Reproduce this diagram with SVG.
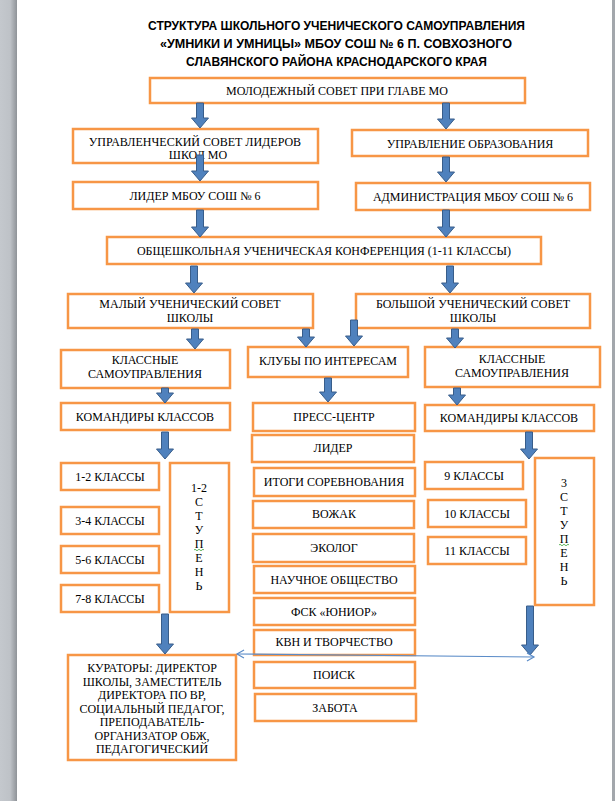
<svg xmlns="http://www.w3.org/2000/svg" width="615" height="801" viewBox="0 0 615 801">
<style>
.box{fill:#fff;stroke:#F79646;stroke-width:2.5}
.t{font-family:"Liberation Serif","Times New Roman",serif;font-size:12px;fill:#000;text-anchor:middle}
.ttl{font-family:"Liberation Sans",Arial,sans-serif;font-weight:bold;font-size:12.5px;fill:#000;text-anchor:middle}
.arr{fill:#4F81BD;stroke:#385D8A;stroke-width:1}
</style>
<defs>
<linearGradient id="lg" x1="0" y1="0" x2="1" y2="0">
<stop offset="0" stop-color="#C4C8CD"/>
<stop offset="0.6" stop-color="#BEC2C7"/>
<stop offset="1" stop-color="#8F9398"/>
</linearGradient>
<marker id="oa" markerWidth="10" markerHeight="10" refX="8" refY="5" orient="auto-start-reverse" markerUnits="userSpaceOnUse">
<path d="M1,1 L8,5 L1,9" fill="none" stroke="#5B8CC8" stroke-width="1.2"/>
</marker>
</defs>
<rect x="0" y="0" width="615" height="801" fill="#fff"/>
<rect x="0" y="0" width="17" height="801" fill="url(#lg)"/>
<rect x="612" y="0" width="3" height="801" fill="#A3A7AC"/>

<g id="title">
<text class="ttl" x="336.5" y="30" textLength="377" lengthAdjust="spacingAndGlyphs">СТРУКТУРА ШКОЛЬНОГО УЧЕНИЧЕСКОГО САМОУПРАВЛЕНИЯ</text>
<text class="ttl" x="336" y="48" textLength="352" lengthAdjust="spacingAndGlyphs">«УМНИКИ И УМНИЦЫ» МБОУ СОШ  № 6 П. СОВХОЗНОГО</text>
<text class="ttl" x="336.5" y="65.5" textLength="301" lengthAdjust="spacingAndGlyphs">СЛАВЯНСКОГО РАЙОНА КРАСНОДАРСКОГО КРАЯ</text>
</g>

<g id="n-molodezh"><rect class="box" x="150" y="78" width="375" height="25"/><text class="t" x="337" y="95">МОЛОДЕЖНЫЙ СОВЕТ ПРИ ГЛАВЕ МО</text></g>
<g id="n-upr-sovet"><rect class="box" x="73" y="129" width="245" height="34"/><text class="t" x="195" y="146">УПРАВЛЕНЧЕСКИЙ СОВЕТ ЛИДЕРОВ</text><text class="t" x="198" y="159">ШКОЛ МО</text></g>
<g id="n-upr-obr"><rect class="box" x="352" y="130" width="236" height="26"/><text class="t" x="470" y="148">УПРАВЛЕНИЕ ОБРАЗОВАНИЯ</text></g>
<g id="n-lider"><rect class="box" x="73" y="182" width="245" height="27"/><text class="t" x="195" y="200">ЛИДЕР МБОУ СОШ № 6</text></g>
<g id="n-admin"><rect class="box" x="356" y="183" width="234" height="27"/><text class="t" x="473" y="201">АДМИНИСТРАЦИЯ МБОУ СОШ № 6</text></g>
<g id="n-konf"><rect class="box" x="107" y="237" width="434" height="27"/><text class="t" x="324" y="255">ОБЩЕШКОЛЬНАЯ УЧЕНИЧЕСКАЯ КОНФЕРЕНЦИЯ (1-11 КЛАССЫ)</text></g>
<g id="n-maly"><rect class="box" x="68" y="294" width="245" height="34"/><text class="t" x="190" y="308">МАЛЫЙ УЧЕНИЧЕСКИЙ СОВЕТ</text><text class="t" x="190" y="322">ШКОЛЫ</text></g>
<g id="n-bolshoy"><rect class="box" x="356" y="294" width="234" height="34"/><text class="t" x="473" y="308">БОЛЬШОЙ УЧЕНИЧЕСКИЙ СОВЕТ</text><text class="t" x="473" y="322">ШКОЛЫ</text></g>
<g id="n-klass-l"><rect class="box" x="61" y="350" width="169" height="38"/><text class="t" x="145" y="364">КЛАССНЫЕ</text><text class="t" x="145" y="378">САМОУПРАВЛЕНИЯ</text></g>
<g id="n-kluby"><rect class="box" x="248" y="347" width="160" height="30"/><text class="t" x="328" y="365">КЛУБЫ ПО ИНТЕРЕСАМ</text></g>
<g id="n-klass-r"><rect class="box" x="425" y="347" width="175" height="40"/><text class="t" x="512" y="363">КЛАССНЫЕ</text><text class="t" x="512" y="377">САМОУПРАВЛЕНИЯ</text></g>
<g id="n-kom-l"><rect class="box" x="61" y="403" width="169" height="27"/><text class="t" x="145" y="421">КОМАНДИРЫ КЛАССОВ</text></g>
<g id="n-kom-r"><rect class="box" x="425" y="405" width="169" height="26"/><text class="t" x="509" y="422">КОМАНДИРЫ КЛАССОВ</text></g>

<g id="n-press"><rect class="box" x="253" y="403" width="162" height="28"/><text class="t" x="334" y="421">ПРЕСС-ЦЕНТР</text></g>
<g id="n-lider2"><rect class="box" x="252" y="435" width="162" height="27"/><text class="t" x="333" y="452">ЛИДЕР</text></g>
<g id="n-itogi"><rect class="box" x="254" y="468" width="161" height="28"/><text class="t" x="334" y="486">ИТОГИ СОРЕВНОВАНИЯ</text></g>
<g id="n-vozhak"><rect class="box" x="253" y="501" width="161" height="27"/><text class="t" x="334" y="518">ВОЖАК</text></g>
<g id="n-ekolog"><rect class="box" x="253" y="534" width="161" height="28"/><text class="t" x="334" y="552">ЭКОЛОГ</text></g>
<g id="n-nauch"><rect class="box" x="254" y="566" width="161" height="27"/><text class="t" x="334" y="584">НАУЧНОЕ ОБЩЕСТВО</text></g>
<g id="n-fsk"><rect class="box" x="254" y="598" width="161" height="27"/><text class="t" x="334" y="616">ФСК «ЮНИОР»</text></g>
<g id="n-kvn"><rect class="box" x="254" y="630" width="161" height="25"/><text class="t" x="334" y="646">КВН И ТВОРЧЕСТВО</text></g>
<g id="n-poisk"><rect class="box" x="254" y="662" width="161" height="26"/><text class="t" x="334" y="679">ПОИСК</text></g>
<g id="n-zabota"><rect class="box" x="255" y="694" width="161" height="27"/><text class="t" x="335" y="712">ЗАБОТА</text></g>

<g id="n-12"><rect class="box" x="61" y="463" width="98" height="27"/><text class="t" x="110" y="481">1-2 КЛАССЫ</text></g>
<g id="n-34"><rect class="box" x="61" y="507" width="98" height="27"/><text class="t" x="110" y="525">3-4 КЛАССЫ</text></g>
<g id="n-56"><rect class="box" x="61" y="546" width="98" height="27"/><text class="t" x="110" y="564">5-6 КЛАССЫ</text></g>
<g id="n-78"><rect class="box" x="61" y="585" width="98" height="27"/><text class="t" x="110" y="603">7-8 КЛАССЫ</text></g>
<g id="n-st12"><rect class="box" x="170" y="463" width="59" height="149"/>
<text class="t" x="199" y="492">1-2</text><text class="t" x="199" y="506">С</text><text class="t" x="199" y="520">Т</text><text class="t" x="199" y="534">У</text><text class="t" x="199" y="548">П</text><text class="t" x="199" y="562">Е</text><text class="t" x="199" y="576">Н</text><text class="t" x="199" y="590">Ь</text>
<path d="M194,550 q1,-1.5 2,0 t2,0 t2,0 t2,0 t2,0" fill="none" stroke="#3BA53B" stroke-width="0.8"/>
</g>

<g id="n-9"><rect class="box" x="425" y="462" width="98" height="27"/><text class="t" x="474" y="480">9 КЛАССЫ</text></g>
<g id="n-10"><rect class="box" x="428" y="500" width="98" height="27"/><text class="t" x="477" y="518">10 КЛАССЫ</text></g>
<g id="n-11"><rect class="box" x="428" y="537" width="98" height="27"/><text class="t" x="477" y="555">11 КЛАССЫ</text></g>
<g id="n-st3"><rect class="box" x="535" y="458" width="59" height="147"/>
<text class="t" x="564" y="487">3</text><text class="t" x="564" y="501">С</text><text class="t" x="564" y="515">Т</text><text class="t" x="564" y="529">У</text><text class="t" x="564" y="543">П</text><text class="t" x="564" y="557">Е</text><text class="t" x="564" y="571">Н</text><text class="t" x="564" y="585">Ь</text>
<path d="M559,545 q1,-1.5 2,0 t2,0 t2,0 t2,0 t2,0" fill="none" stroke="#3BA53B" stroke-width="0.8"/>
</g>

<g id="n-kuratory"><rect class="box" x="68" y="655" width="168" height="105"/>
<text class="t" x="152" y="672">КУРАТОРЫ: ДИРЕКТОР</text>
<text class="t" x="152" y="685.5">ШКОЛЫ, ЗАМЕСТИТЕЛЬ</text>
<text class="t" x="152" y="699">ДИРЕКТОРА ПО ВР,</text>
<text class="t" x="152" y="712.5">СОЦИАЛЬНЫЙ ПЕДАГОГ,</text>
<text class="t" x="152" y="726">ПРЕПОДАВАТЕЛЬ-</text>
<text class="t" x="152" y="739.5">ОРГАНИЗАТОР ОБЖ,</text>
<text class="t" x="152" y="753">ПЕДАГОГИЧЕСКИЙ</text>
</g>

<g id="connectors">
<polygon class="arr" points="196.5,103 203.5,103 203.5,118 208.5,118 200,128 191.5,118 196.5,118"/>
<polygon class="arr" points="442.5,103 449.5,103 449.5,119 454.5,119 446,129 437.5,119 442.5,119"/>
<polygon class="arr" points="196.5,155 203.5,155 203.5,171 208.5,171 200,181 191.5,171 196.5,171"/>
<polygon class="arr" points="442.5,157 449.5,157 449.5,172 454.5,172 446,182 437.5,172 442.5,172"/>
<polygon class="arr" points="196.5,210 203.5,210 203.5,227 208.5,227 200,237 191.5,227 196.5,227"/>
<polygon class="arr" points="442.5,210 449.5,210 449.5,227 454.5,227 446,237 437.5,227 442.5,227"/>
<polygon class="arr" points="190.5,266 197.5,266 197.5,283 202.5,283 194,293 185.5,283 190.5,283"/>
<polygon class="arr" points="446.5,266 453.5,266 453.5,283 458.5,283 450,293 441.5,283 446.5,283"/>
<polygon class="arr" points="191.5,329 198.5,329 198.5,339 203.5,339 195,349 186.5,339 191.5,339"/>
<polygon class="arr" points="302.5,329 309.5,329 309.5,337 314.5,337 306,347 297.5,337 302.5,337"/>
<polygon class="arr" points="350.5,320 357.5,320 357.5,336 362.5,336 354,346 345.5,336 350.5,336"/>
<polygon class="arr" points="451.5,329 458.5,329 458.5,338 463.5,338 455,348 446.5,338 451.5,338"/>
<polygon class="arr" points="161.5,388 168.5,388 168.5,393 173.5,393 165,403 156.5,393 161.5,393"/>
<polygon class="arr" points="324.5,378 331.5,378 331.5,392 336.5,392 328,402 319.5,392 324.5,392"/>
<polygon class="arr" points="453.5,388 460.5,388 460.5,395 465.5,395 457,405 448.5,395 453.5,395"/>
<polygon class="arr" points="161.5,432 168.5,432 168.5,449 173.5,449 165,459 156.5,449 161.5,449"/>
<polygon class="arr" points="525.5,432 532.5,432 532.5,449 537.5,449 529,459 520.5,449 525.5,449"/>
<polygon class="arr" points="161.5,614 168.5,614 168.5,644 173.5,644 165,654 156.5,644 161.5,644"/>
<polygon class="arr" points="526.5,606 533.5,606 533.5,645 538.5,645 530,655 521.5,645 526.5,645"/>
<line x1="237" y1="654" x2="534" y2="657" stroke="#5B8CC8" stroke-width="1.2" marker-start="url(#oa)" marker-end="url(#oa)"/>
</g>
</svg>
